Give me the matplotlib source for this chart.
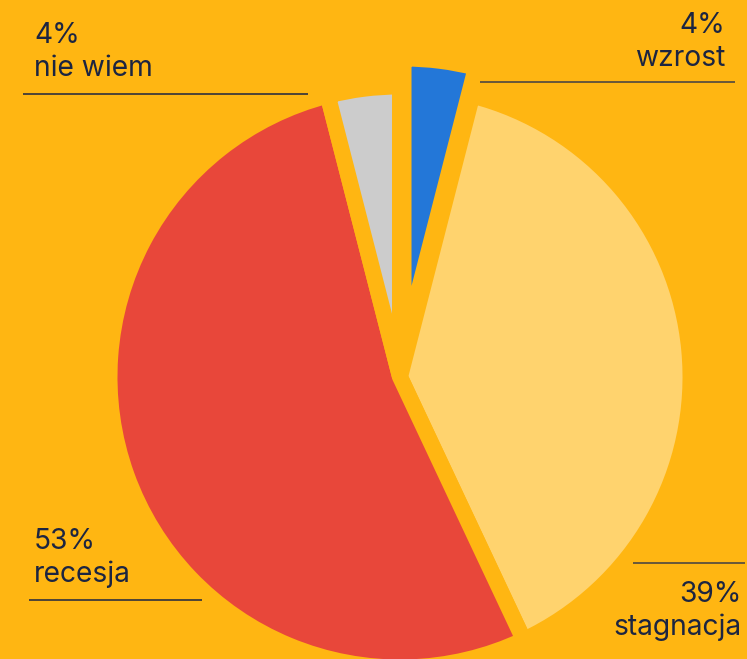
import matplotlib
matplotlib.use("Agg")
import matplotlib.pyplot as plt

# ---- data ----
categories = ["wzrost", "stagnacja", "recesja", "nie wiem"]
values = [4, 39, 53, 4]
pct_labels = ["4%", "39%", "53%", "4%"]
colors = ["#2377D8", "#FFD36E", "#E8473A", "#CCCCCC"]
explode_frac = [0.097, 0, 0, 0]

BG = "#FFB612"
TXT = "#1C2541"

W, H = 747, 659
fig = plt.figure(figsize=(W / 100, H / 100), dpi=100, facecolor=BG)
ax = fig.add_axes([0, 0, 1, 1])
ax.set_facecolor(BG)

cx, cy, R = 400, H - 377, 290.5
wedges, _ = ax.pie(values, colors=colors, startangle=90, counterclock=False,
                   explode=[f * R for f in explode_frac], center=(cx, cy), radius=R,
                   frame=True,
                   wedgeprops=dict(edgecolor=BG, linewidth=11.5, joinstyle="miter"))
for w, v in zip(wedges, values):
    if v < 10:
        w.set_joinstyle("bevel")

ax.set_xlim(0, W)
ax.set_ylim(0, H)
ax.set_aspect("equal")
ax.axis("off")

font = "Inter"
fs = 20.3

def label(x, y, pct, name, ha):
    ax.text(x, H - y, pct, ha=ha, va="baseline", fontsize=fs, color=TXT, family=font)
    ax.text(x, H - y - 33, name, ha=ha, va="baseline", fontsize=fs, color=TXT, family=font)

label(34, 43, pct_labels[3], categories[3], "left")
label(725, 33, pct_labels[0], categories[0], "right")
label(34, 549, pct_labels[2], categories[2], "left")
label(742, 602, pct_labels[1], categories[1], "right")

def hline(x0, x1, y, c):
    ax.plot([x0, x1], [H - y, H - y], color=c, linewidth=1.1, solid_capstyle="butt")

hline(23, 308, 94, TXT)
hline(480, 735, 82, "#3E3F45")
hline(29, 202, 600, TXT)
hline(633, 745, 563, "#3E3F45")

fig.savefig("out.png", dpi=100, facecolor=BG)
